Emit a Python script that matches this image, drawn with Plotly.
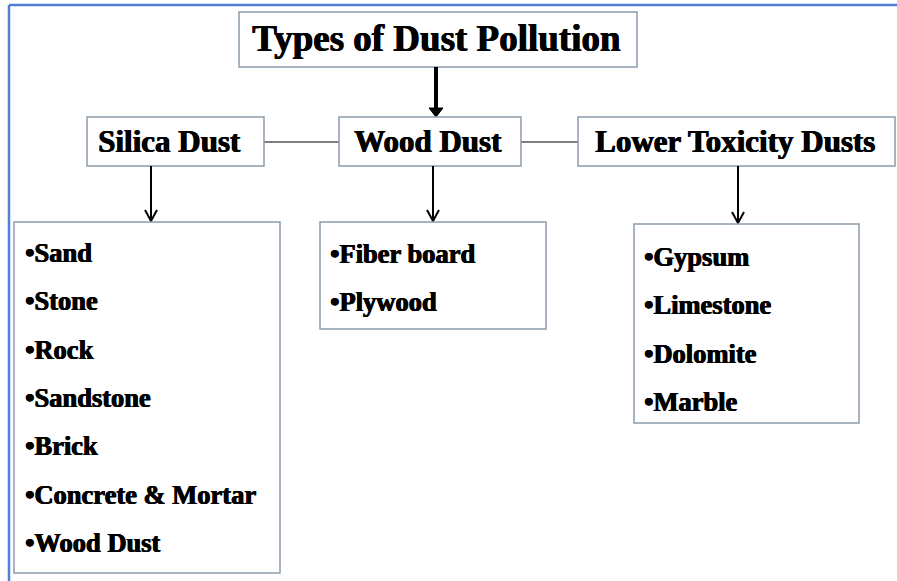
"""Types of dust pollution - tree diagram drawn with Plotly shapes and annotations."""

import plotly.graph_objects as go

# Diagram content
title_text = "Types of Dust Pollution"
categories = ["Silica Dust", "Wood Dust", "Lower Toxicity Dusts"]
silica_items = ["Sand", "Stone", "Rock", "Sandstone", "Brick", "Concrete & Mortar", "Wood Dust"]
wood_items = ["Fiber board", "Plywood"]
lower_items = ["Gypsum", "Limestone", "Dolomite", "Marble"]
item_lists = [silica_items, wood_items, lower_items]

# Layout of boxes in pixel space (x0, y0, x1, y1)
title_box = (239, 12, 637, 67)
cat_boxes = [(87, 117, 264, 166), (339, 117, 521, 166), (578, 117, 895, 166)]
cat_text_x = [169, 428, 735]
list_boxes = [(14, 222, 280, 573), (320, 222, 546, 329), (634, 224, 859, 423)]
arrow_x = [151, 433, 738]
item_x = [23, 328, 642]
item_y0 = [253, 254, 257]
item_step = 48.3

W, H = 897, 581
BOX_LINE = "#8c9cab"
FONT = "Liberation Serif, Times New Roman, serif"
HEAVY = "0.7px 0px 0px black, -0.3px 0px 0px black"

fig = go.Figure()
shapes = []
annotations = []


def add_box(b):
    shapes.append(dict(type="rect", x0=b[0], y0=b[1], x1=b[2], y1=b[3],
                       line=dict(color=BOX_LINE, width=1.5), fillcolor="white"))


def add_arrow(x, y0, y1):
    shapes.append(dict(type="line", x0=x, y0=y0, x1=x, y1=y1,
                       line=dict(color="black", width=2)))
    shapes.append(dict(type="path",
                       path=f"M {x-6},{y1-11} L {x},{y1} L {x+6},{y1-11}",
                       line=dict(color="black", width=2)))


# outer frame (only top and left edges visible)
shapes.append(dict(type="line", x0=9, y0=5, x1=W, y1=5, line=dict(color="#4f7fd6", width=2.5)))
shapes.append(dict(type="line", x0=9, y0=5, x1=9, y1=H, line=dict(color="#4f7fd6", width=2.5)))

# title
add_box(title_box)
annotations.append(dict(x=436, y=(title_box[1] + title_box[3]) / 2 - 1,
                        text=f"<b>{title_text}</b>", showarrow=False,
                        font=dict(size=37, color="black", family=FONT, shadow=HEAVY)))

# thick arrow from title down to the middle row
shapes.append(dict(type="line", x0=436, y0=title_box[3], x1=436, y1=111,
                   line=dict(color="black", width=4)))
shapes.append(dict(type="path", path="M 429,108 L 436,117 L 443,108 Z",
                   fillcolor="black", line=dict(color="black", width=1)))

# connectors between category boxes
for a, b in zip(cat_boxes[:-1], cat_boxes[1:]):
    shapes.append(dict(type="line", x0=a[2], y0=142, x1=b[0], y1=142,
                       line=dict(color="#555555", width=1.5)))

for i, name in enumerate(categories):
    b = cat_boxes[i]
    add_box(b)
    annotations.append(dict(x=cat_text_x[i], y=(b[1] + b[3]) / 2,
                            text=f"<b>{name}</b>", showarrow=False,
                            font=dict(size=31, color="black", family=FONT, shadow=HEAVY)))
    add_arrow(arrow_x[i], b[3], list_boxes[i][1] - 1)
    add_box(list_boxes[i])
    for j, item in enumerate(item_lists[i]):
        annotations.append(dict(x=item_x[i], y=item_y0[i] + j * item_step,
                                text=f"<b>•{item}</b>", showarrow=False,
                                xanchor="left", yanchor="middle",
                                font=dict(size=26.5, color="black", family=FONT, shadow=HEAVY)))

fig.update_layout(
    width=W, height=H,
    margin=dict(l=0, r=0, t=0, b=0),
    paper_bgcolor="white", plot_bgcolor="white",
    xaxis=dict(range=[0, W], visible=False, fixedrange=True),
    yaxis=dict(range=[H, 0], visible=False, fixedrange=True),
    shapes=shapes,
    annotations=annotations,
    showlegend=False,
)

# drop the default page margin so the figure sits at the window origin
fig.write_html("out.html", config={"displayModeBar": False},
               post_script="document.body.style.margin='0';")
